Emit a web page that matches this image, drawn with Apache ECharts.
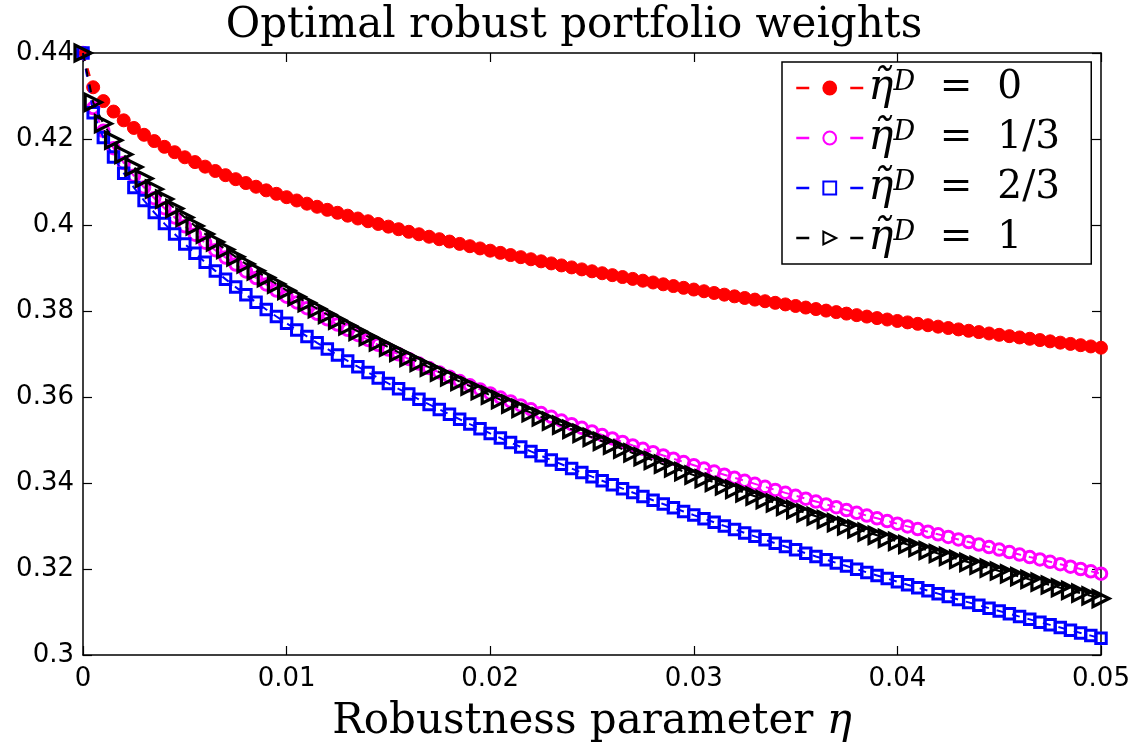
<!DOCTYPE html>
<html>
<head>
<meta charset="utf-8">
<script src="https://cdn.jsdelivr.net/npm/echarts/dist/echarts.min.js"></script>
<style>html,body{margin:0;padding:0;background:#fff;}#chart{width:1148px;height:748px;}</style>
</head>
<body>
<div id="chart"></div>
<script>
const titleText = 'Optimal robust portfolio weights';
const xAxisTitle = 'Robustness parameter ';
const legendValues = ['0', '1/3', '2/3', '1'];

const eta = [
  0, 0.0005, 0.001, 0.0015, 0.002, 0.0025, 0.003, 0.0035, 0.004, 0.0045,
  0.005, 0.0055, 0.006, 0.0065, 0.007, 0.0075, 0.008, 0.0085, 0.009, 0.0095,
  0.01, 0.0105, 0.011, 0.0115, 0.012, 0.0125, 0.013, 0.0135, 0.014, 0.0145,
  0.015, 0.0155, 0.016, 0.0165, 0.017, 0.0175, 0.018, 0.0185, 0.019, 0.0195,
  0.02, 0.0205, 0.021, 0.0215, 0.022, 0.0225, 0.023, 0.0235, 0.024, 0.0245,
  0.025, 0.0255, 0.026, 0.0265, 0.027, 0.0275, 0.028, 0.0285, 0.029, 0.0295,
  0.03, 0.0305, 0.031, 0.0315, 0.032, 0.0325, 0.033, 0.0335, 0.034, 0.0345,
  0.035, 0.0355, 0.036, 0.0365, 0.037, 0.0375, 0.038, 0.0385, 0.039, 0.0395,
  0.04, 0.0405, 0.041, 0.0415, 0.042, 0.0425, 0.043, 0.0435, 0.044, 0.0445,
  0.045, 0.0455, 0.046, 0.0465, 0.047, 0.0475, 0.048, 0.0485, 0.049, 0.0495,
  0.05
];

const weightsD0 = [
  0.44, 0.43203, 0.42881, 0.42638, 0.42434, 0.42257, 0.42098, 0.41952, 0.41818, 0.41693,
  0.41575, 0.41463, 0.41357, 0.41256, 0.41159, 0.41066, 0.40976, 0.40890, 0.40806, 0.40725,
  0.40647, 0.40570, 0.40496, 0.40424, 0.40353, 0.40284, 0.40217, 0.40151, 0.40087, 0.40024,
  0.39962, 0.39902, 0.39842, 0.39784, 0.39727, 0.39670, 0.39615, 0.39561, 0.39507, 0.39455,
  0.39403, 0.39352, 0.39301, 0.39252, 0.39203, 0.39155, 0.39107, 0.39060, 0.39014, 0.38968,
  0.38923, 0.38878, 0.38834, 0.38790, 0.38747, 0.38705, 0.38663, 0.38621, 0.38580, 0.38539,
  0.38499, 0.38459, 0.38419, 0.38380, 0.38341, 0.38303, 0.38265, 0.38227, 0.38190, 0.38153,
  0.38117, 0.38080, 0.38045, 0.38009, 0.37974, 0.37939, 0.37904, 0.37870, 0.37835, 0.37802,
  0.37768, 0.37735, 0.37702, 0.37669, 0.37636, 0.37604, 0.37572, 0.37540, 0.37509, 0.37477,
  0.37446, 0.37415, 0.37385, 0.37354, 0.37324, 0.37294, 0.37264, 0.37235, 0.37205, 0.37176,
  0.37147
];

const weightsD13 = [
  0.44, 0.42720, 0.42190, 0.41785, 0.41443, 0.41143, 0.40872, 0.40623, 0.40391, 0.40175,
  0.39970, 0.39776, 0.39590, 0.39413, 0.39243, 0.39079, 0.38920, 0.38767, 0.38619, 0.38474,
  0.38334, 0.38198, 0.38065, 0.37935, 0.37808, 0.37684, 0.37563, 0.37444, 0.37328, 0.37214,
  0.37102, 0.36992, 0.36884, 0.36778, 0.36674, 0.36571, 0.36471, 0.36371, 0.36273, 0.36177,
  0.36082, 0.35988, 0.35896, 0.35805, 0.35715, 0.35626, 0.35538, 0.35452, 0.35367, 0.35282,
  0.35199, 0.35116, 0.35035, 0.34954, 0.34874, 0.34796, 0.34717, 0.34640, 0.34564, 0.34488,
  0.34414, 0.34339, 0.34266, 0.34193, 0.34121, 0.34050, 0.33980, 0.33910, 0.33840, 0.33771,
  0.33703, 0.33636, 0.33569, 0.33502, 0.33437, 0.33371, 0.33307, 0.33242, 0.33179, 0.33116,
  0.33053, 0.32991, 0.32929, 0.32868, 0.32807, 0.32747, 0.32687, 0.32627, 0.32568, 0.32510,
  0.32451, 0.32394, 0.32336, 0.32279, 0.32223, 0.32167, 0.32111, 0.32055, 0.32000, 0.31946,
  0.31891
];

const weightsD23 = [
  0.44, 0.42613, 0.42032, 0.41584, 0.41205, 0.40871, 0.40569, 0.40291, 0.40033, 0.39790,
  0.39560, 0.39342, 0.39133, 0.38933, 0.38741, 0.38556, 0.38377, 0.38204, 0.38036, 0.37872,
  0.37714, 0.37559, 0.37408, 0.37261, 0.37117, 0.36976, 0.36839, 0.36704, 0.36571, 0.36442,
  0.36315, 0.36190, 0.36067, 0.35946, 0.35827, 0.35711, 0.35596, 0.35483, 0.35371, 0.35261,
  0.35153, 0.35047, 0.34941, 0.34838, 0.34735, 0.34634, 0.34534, 0.34436, 0.34338, 0.34242,
  0.34147, 0.34053, 0.33960, 0.33869, 0.33778, 0.33688, 0.33599, 0.33511, 0.33424, 0.33338,
  0.33253, 0.33169, 0.33085, 0.33002, 0.32921, 0.32839, 0.32759, 0.32679, 0.32601, 0.32522,
  0.32445, 0.32368, 0.32292, 0.32217, 0.32142, 0.32068, 0.31994, 0.31921, 0.31849, 0.31777,
  0.31706, 0.31635, 0.31565, 0.31496, 0.31427, 0.31358, 0.31290, 0.31223, 0.31156, 0.31089,
  0.31024, 0.30958, 0.30893, 0.30829, 0.30764, 0.30701, 0.30638, 0.30575, 0.30513, 0.30451,
  0.30389
];

const weightsD1 = [
  0.44, 0.42852, 0.42357, 0.41971, 0.41642, 0.41348, 0.41081, 0.40834, 0.40603, 0.40384,
  0.40177, 0.39979, 0.39789, 0.39606, 0.39430, 0.39260, 0.39095, 0.38934, 0.38778, 0.38626,
  0.38478, 0.38334, 0.38192, 0.38054, 0.37918, 0.37786, 0.37655, 0.37528, 0.37402, 0.37279,
  0.37157, 0.37038, 0.36921, 0.36805, 0.36692, 0.36579, 0.36469, 0.36360, 0.36252, 0.36146,
  0.36042, 0.35938, 0.35836, 0.35735, 0.35636, 0.35538, 0.35440, 0.35344, 0.35249, 0.35155,
  0.35062, 0.34970, 0.34879, 0.34789, 0.34699, 0.34611, 0.34524, 0.34437, 0.34351, 0.34266,
  0.34182, 0.34099, 0.34016, 0.33934, 0.33853, 0.33772, 0.33693, 0.33613, 0.33535, 0.33457,
  0.33380, 0.33303, 0.33227, 0.33152, 0.33077, 0.33003, 0.32930, 0.32857, 0.32784, 0.32712,
  0.32641, 0.32570, 0.32500, 0.32430, 0.32361, 0.32292, 0.32223, 0.32155, 0.32088, 0.32021,
  0.31954, 0.31888, 0.31823, 0.31757, 0.31693, 0.31628, 0.31564, 0.31501, 0.31438, 0.31375,
  0.31313
];

const seriesValues = [weightsD0, weightsD13, weightsD23, weightsD1];
const seriesColors = ['#ff0000', '#ff00ff', '#0000ff', '#000000'];

function pairs(ys) { return eta.map((x, i) => [x, ys[i]]); }

const markerDefs = [
  { symbol: 'circle', symbolSize: 13, symbolRotate: 0, filled: true, bw: 1 },
  { symbol: 'circle', symbolSize: 11.5, symbolRotate: 0, filled: false, bw: 3 },
  { symbol: 'rect', symbolSize: 10.5, symbolRotate: 0, filled: false, bw: 3 },
  { symbol: 'triangle', symbolSize: 16, symbolRotate: -90, filled: false, bw: 3.2 }
];

const series = legendValues.map((name, k) => {
  const m = markerDefs[k];
  const c = seriesColors[k];
  return {
    name: name,
    type: 'line',
    data: pairs(seriesValues[k]),
    symbol: m.symbol,
    symbolSize: m.symbolSize,
    symbolRotate: m.symbolRotate,
    showAllSymbol: true,
    clip: false,
    color: c,
    lineStyle: { color: c, width: 2, type: [8, 8] },
    itemStyle: m.filled
      ? { color: c, borderColor: c, borderWidth: m.bw }
      : { color: 'rgba(255,255,255,0)', borderColor: c, borderWidth: m.bw },
    emphasis: { disabled: true },
    z: 2 + k
  };
});

const axisLineStyle = { color: '#000', width: 1.5 };
const tickStyle = { inside: true, length: 9, lineStyle: { color: '#000', width: 1.2 } };

const chart = echarts.init(document.getElementById('chart'), null, { renderer: 'canvas' });
chart.setOption({
  animation: false,
  backgroundColor: '#ffffff',
  title: {
    text: titleText,
    left: 'center',
    top: 0,
    textStyle: { fontFamily: 'DejaVu Serif', fontSize: 42, fontWeight: 'normal', color: '#000' }
  },
  grid: { left: 83, right: 47, top: 53, bottom: 78, containLabel: false },
  legend: {
    orient: 'vertical',
    left: 782,
    top: 62,
    padding: [5, 8, 5, 13],
    itemGap: 8,
    itemWidth: 67,
    itemHeight: 16,
    backgroundColor: '#ffffff',
    borderColor: '#000',
    borderWidth: 1.5,
    borderRadius: 0,
    selectedMode: false,
    lineStyle: { width: 2.5, type: [13, 41] },
    formatter: (name) => '{eta|\u03B7\u0303}{sup|D}{eq|  =  ' + name + '}',
    textStyle: {
      width: 215,
      lineHeight: 38,
      color: '#000',
      fontFamily: 'DejaVu Serif',
      fontSize: 38,
      rich: {
        eta: { fontFamily: 'DejaVu Serif', fontStyle: 'italic', fontSize: 42, lineHeight: 38, color: '#000' },
        sup: { fontFamily: 'DejaVu Serif', fontStyle: 'italic', fontSize: 27, lineHeight: 24, verticalAlign: 'top', color: '#000' },
        eq: { fontFamily: 'DejaVu Serif', fontSize: 39, lineHeight: 38, color: '#000' }
      }
    },
    data: legendValues
  },
  xAxis: [
    {
      type: 'value', min: 0, max: 0.05, interval: 0.01, position: 'bottom',
      axisLine: { show: true, onZero: false, lineStyle: axisLineStyle },
      axisTick: tickStyle,
      axisLabel: { color: '#000', fontFamily: 'DejaVu Sans', fontSize: 26, margin: 11 },
      splitLine: { show: false },
      name: '{t|' + xAxisTitle + '}{e|\u03B7}',
      nameLocation: 'middle',
      nameGap: 46,
      nameTextStyle: {
        color: '#000', fontFamily: 'DejaVu Serif', fontSize: 42,
        rich: {
          t: { fontFamily: 'DejaVu Serif', fontSize: 42, color: '#000' },
          e: { fontFamily: 'DejaVu Serif', fontStyle: 'italic', fontSize: 42, color: '#000' }
        }
      }
    },
    {
      type: 'value', min: 0, max: 0.05, interval: 0.01, position: 'top',
      axisLine: { show: true, onZero: false, lineStyle: axisLineStyle },
      axisTick: tickStyle,
      axisLabel: { show: false },
      splitLine: { show: false }
    }
  ],
  yAxis: [
    {
      type: 'value', min: 0.3, max: 0.44, interval: 0.02, position: 'left',
      axisLine: { show: true, onZero: false, lineStyle: axisLineStyle },
      axisTick: tickStyle,
      axisLabel: { color: '#000', fontFamily: 'DejaVu Sans', fontSize: 26, margin: 9 },
      splitLine: { show: false }
    },
    {
      type: 'value', min: 0.3, max: 0.44, interval: 0.02, position: 'right',
      axisLine: { show: true, onZero: false, lineStyle: axisLineStyle },
      axisTick: tickStyle,
      axisLabel: { show: false },
      splitLine: { show: false }
    }
  ],
  series: series
});
</script>
</body>
</html>
